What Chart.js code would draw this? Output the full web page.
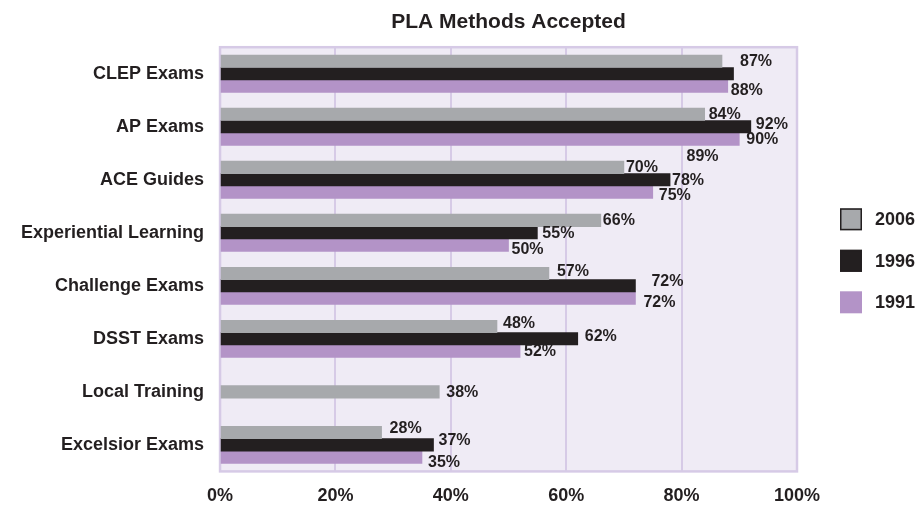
<!DOCTYPE html>
<html>
<head>
<meta charset="utf-8">
<script src="https://cdn.jsdelivr.net/npm/chart.js@4.4.1/dist/chart.umd.min.js"></script>
<style>
  body { margin: 0; background: #ffffff; }
  #wrap { width: 920px; height: 515px; position: relative; }
</style>
</head>
<body>
<div id="wrap"><canvas id="plaChart"></canvas></div>
<script>
// Chart data
const categories = ['CLEP Exams', 'AP Exams', 'ACE Guides', 'Experiential Learning',
                    'Challenge Exams', 'DSST Exams', 'Local Training', 'Excelsior Exams'];
const seriesNames = ['2006', '1996', '1991'];
const values2006 = [87, 84, 70, 66, 57, 48, 38, 28];
const values1996 = [89, 92, 78, 55, 72, 62, null, 37];
const values1991 = [88, 90, 75, 50, 72, 52, null, 35];
const xTickValues = [0, 20, 40, 60, 80, 100];

const colors = ['#a7a9ac', '#231f20', '#b393c7'];
const textColor = '#231f20';
const lavender = '#d6cae6';

// label nudges [dx from bar end, dy from bar centre], per series then category
const labelNudge = [
    [[18, 0], [4, 0], [2, 0], [2, 0], [8, -2], [6, -3], [7, 1], [8, -4]],
    [[-47, 83], [5, -2], [2, 1], [5, 1], [16, -4], [7, -2], [0, 0], [5, -4]],
    [[3, 4], [7, 0], [6, 3], [3, 4], [8, 4], [4, 0], [0, 0], [6, 5]]
];

Chart.defaults.font.family = "'Liberation Sans', Arial, sans-serif";
Chart.defaults.color = textColor;

const plotBackground = {
    id: 'plotBackground',
    beforeDraw(chart) {
        const {ctx, chartArea: a} = chart;
        ctx.save();
        ctx.fillStyle = '#efebf5';
        ctx.fillRect(a.left, a.top, a.right - a.left, a.bottom - a.top);
        ctx.restore();
    },
    beforeDatasetsDraw(chart) {
        const {ctx, chartArea: a} = chart;
        ctx.save();
        ctx.strokeStyle = lavender;
        ctx.lineWidth = 2.5;
        ctx.strokeRect(a.left, a.top, a.right - a.left, a.bottom - a.top);
        ctx.restore();
    }
};

const valueLabels = {
    id: 'valueLabels',
    afterDatasetsDraw(chart) {
        const ctx = chart.ctx;
        ctx.save();
        ctx.font = "bold 16px 'Liberation Sans', Arial, sans-serif";
        ctx.fillStyle = textColor;
        ctx.textAlign = 'left';
        ctx.textBaseline = 'middle';
        chart.data.datasets.forEach((ds, di) => {
            const meta = chart.getDatasetMeta(di);
            meta.data.forEach((bar, i) => {
                const v = ds.data[i];
                if (v === null || v === undefined) return;
                const n = labelNudge[di][i];
                ctx.fillText(v + '%', bar.x + n[0], bar.y + n[1]);
            });
        });
        ctx.restore();
    }
};

const sideLegend = {
    id: 'sideLegend',
    afterDraw(chart) {
        const {ctx, chartArea: a} = chart;
        const box = 22;
        const step = 41.5;
        const x = a.right + 43;
        const midY = (a.top + a.bottom) / 2 + 1.5;
        ctx.save();
        ctx.font = "bold 18px 'Liberation Sans', Arial, sans-serif";
        ctx.textAlign = 'left';
        ctx.textBaseline = 'middle';
        chart.data.datasets.forEach((ds, i) => {
            const cy = midY + (i - 1) * step;
            ctx.fillStyle = ds.backgroundColor;
            ctx.fillRect(x, cy - box / 2, box, box);
            if (i < 2) {
                ctx.strokeStyle = textColor;
                ctx.lineWidth = 1.5;
                ctx.strokeRect(x + 0.75, cy - box / 2 + 0.75, box - 1.5, box - 1.5);
            }
            ctx.fillStyle = textColor;
            ctx.fillText(ds.label, x + 35, cy + 1);
        });
        ctx.restore();
    }
};

const seriesValues = [values2006, values1996, values1991];

new Chart(document.getElementById('plaChart'), {
    type: 'bar',
    data: {
        labels: categories,
        datasets: seriesNames.map((name, i) => ({
            label: name,
            data: seriesValues[i],
            backgroundColor: colors[i],
            borderWidth: 0,
            barThickness: 12.4,
            skipNull: true
        }))
    },
    options: {
        indexAxis: 'y',
        responsive: true,
        maintainAspectRatio: false,
        animation: false,
        layout: {
            padding: { left: 13, right: 123, top: 0, bottom: -6 }
        },
        plugins: {
            legend: { display: false },
            tooltip: { enabled: false },
            title: {
                display: true,
                text: 'PLA Methods Accepted',
                fullSize: false,
                color: textColor,
                font: { size: 21, weight: 'bold' },
                padding: { top: 10, bottom: 12 }
            }
        },
        scales: {
            x: {
                min: 0,
                max: 100,
                afterBuildTicks(scale) {
                    scale.ticks = xTickValues.map(v => ({ value: v }));
                },
                ticks: {
                    padding: 14,
                    color: textColor,
                    font: { size: 18, weight: 'bold' },
                    callback: v => v + '%'
                },
                grid: {
                    color: lavender,
                    lineWidth: 2,
                    drawTicks: false
                },
                border: { display: false }
            },
            y: {
                ticks: {
                    padding: 8,
                    color: textColor,
                    font: { size: 18, weight: 'bold' }
                },
                grid: { display: false },
                border: { display: false }
            }
        }
    },
    plugins: [plotBackground, valueLabels, sideLegend]
});
</script>
</body>
</html>
